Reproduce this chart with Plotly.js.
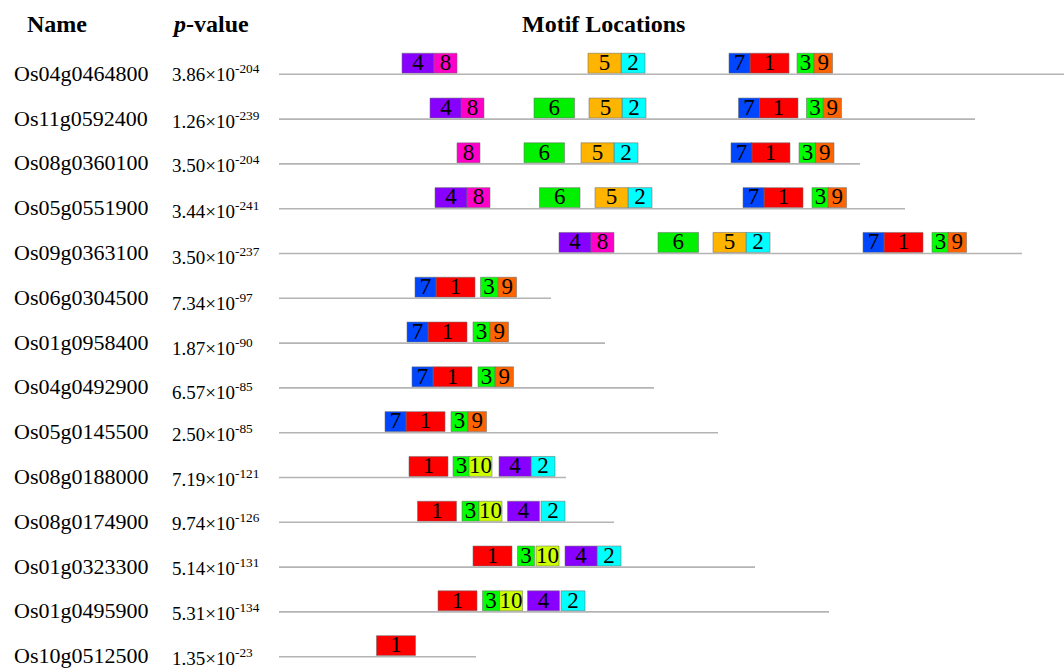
<!DOCTYPE html>
<html>
<head>
<meta charset="utf-8">
<script src="https://cdn.plot.ly/plotly-3.0.1.min.js"></script>
<style>html,body{margin:0;padding:0;background:#fff;}#chart{width:1064px;height:670px;}</style>
</head>
<body>
<div id="chart"></div>
<script>
// ---------- DATA ----------
const genes = ["Os04g0464800","Os11g0592400","Os08g0360100","Os05g0551900","Os09g0363100",
  "Os06g0304500","Os01g0958400","Os04g0492900","Os05g0145500","Os08g0188000",
  "Os08g0174900","Os01g0323300","Os01g0495900","Os10g0512500"];
const pMantissa = ["3.86","1.26","3.50","3.44","3.50","7.34","1.87","6.57","2.50","7.19","9.74","5.14","5.31","1.35"];
const pExponent = ["-204","-239","-204","-241","-237","-97","-90","-85","-85","-121","-126","-131","-134","-23"];
const seqLengths = [790, 696, 581, 626, 743, 272, 326, 375, 439, 287, 335, 476, 550, 197];

const motifIds = ["1","2","3","4","5","6","7","8","9","10"];
const motifWidths = [39, 24, 17, 32, 33, 40.5, 21, 23, 18.5, 23];
const motif1Start  = [471, 480, 472, 485, 605, 157, 149, 154, 127, 130, 138.5, 194, 159, 97.5];
const motif2Start  = [342, 343, 335, 349, 467, null, null, null, null, 252, 262, 318, 282, null];
const motif3Start  = [518, 527.5, 520, 533, 653, 201.5, 194, 199, 172, 174, 183, 238.5, 203.5, null];
const motif4Start  = [123, 151, null, 156, 280, null, null, null, null, 220, 228.5, 286, 248.5, null];
const motif5Start  = [309, 310, 302, 316, 434, null, null, null, null, null, null, null, null, null];
const motif6Start  = [null, 255, 245, 260.5, 379, null, null, null, null, null, null, null, null, null];
const motif7Start  = [450, 459.5, 452, 464, 584, 136, 128, 133, 106, null, null, null, null, null];
const motif8Start  = [155, 182, 178, 188, 312, null, null, null, null, null, null, null, null, null];
const motif9Start  = [535, 544, 536.5, 549, 669, 219, 211, 216, 189, null, null, null, null, null];
const motif10Start = [null, null, null, null, null, null, null, null, null, 190, 200, 257, 220.5, null];
const motifStarts = [motif1Start, motif2Start, motif3Start, motif4Start, motif5Start,
  motif6Start, motif7Start, motif8Start, motif9Start, motif10Start];
const motifColors = ["#FF0000","#00FFFF","#00FF00","#8800FF","#FFB400","#00F000","#0046FF","#FF00C8","#FF6400","#CCFF00"];

// ---------- STYLE ----------
const SERIF = "Liberation Serif, Times New Roman, serif";
const nameYShift = [1,1,1,1,1,1,1,1,1,1,1,1,1,1];
const pYShift = [1,-1,0,-1,-2,-4,-4,-3,0,0,0,0,0,0];

const traces = [];
// backbone lines
const lx = [], ly = [];
seqLengths.forEach((L, i) => { lx.push(0, L, null); ly.push(i, i, null); });
traces.push({type:"scatter", mode:"lines", x:lx, y:ly, line:{color:"#b4b4b4", width:1.6},
  hoverinfo:"skip", showlegend:false});

const tx = [], ty = [], tt = [];
motifStarts.forEach((starts, k) => {
  const ys = [], bs = [], ws = [];
  starts.forEach((s, i) => {
    if (s === null) return;
    ys.push(i); bs.push(s); ws.push(motifWidths[k]);
    tx.push(s + motifWidths[k] / 2); ty.push(i - 0.225); tt.push(motifIds[k]);
  });
  traces.push({type:"bar", orientation:"h", y:ys, base:bs, x:ws, width:0.446, offset:-0.47,
    marker:{color:motifColors[k], line:{color:"rgba(110,110,110,0.55)", width:1}},
    hoverinfo:"skip", showlegend:false, textposition:"none"});
});
traces.push({type:"scatter", mode:"text", x:tx, y:ty, text:tt, textposition:"middle center",
  textfont:{family:SERIF, size:23, color:"#000"}, hoverinfo:"skip", showlegend:false, cliponaxis:false});

const annotations = [];
genes.forEach((g, i) => {
  annotations.push({xref:"paper", yref:"y", x:12/1064, y:i, xanchor:"left", yanchor:"middle",
    yshift:nameYShift[i], text:g, showarrow:false, font:{family:SERIF, size:22, color:"#000"}});
  annotations.push({xref:"paper", yref:"y", x:170/1064, y:i, xanchor:"left", yanchor:"middle",
    yshift:pYShift[i], text:pMantissa[i] + "×10<sup>" + pExponent[i] + "</sup>", showarrow:false,
    font:{family:SERIF, size:19, color:"#000"}});
});
const hdrY = 1 - 24/670;
annotations.push({xref:"paper", yref:"paper", x:25/1064, y:hdrY, xanchor:"left", yanchor:"middle",
  text:"<b>Name</b>", showarrow:false, font:{family:SERIF, size:24, color:"#000"}});
annotations.push({xref:"paper", yref:"paper", x:170/1064, y:hdrY, xanchor:"left", yanchor:"middle",
  text:"<b><i>p</i>-value</b>", showarrow:false, font:{family:SERIF, size:24, color:"#000"}});
annotations.push({xref:"paper", yref:"paper", x:603/1064, y:hdrY, xanchor:"center", yanchor:"middle",
  text:"<b>Motif Locations</b>", showarrow:false, font:{family:SERIF, size:24, color:"#000"}});

const layout = {
  width:1064, height:670, margin:{l:0, r:0, t:0, b:0, pad:0},
  paper_bgcolor:"#fff", plot_bgcolor:"#fff", showlegend:false, barmode:"overlay",
  xaxis:{range:[-279, 785], visible:false, fixedrange:true},
  yaxis:{range:[(670-74.3)/44.8, -74.3/44.8], autorange:false, visible:false, fixedrange:true},
  annotations:annotations
};
Plotly.newPlot("chart", traces, layout, {displayModeBar:false, staticPlot:true});
</script>
</body>
</html>
